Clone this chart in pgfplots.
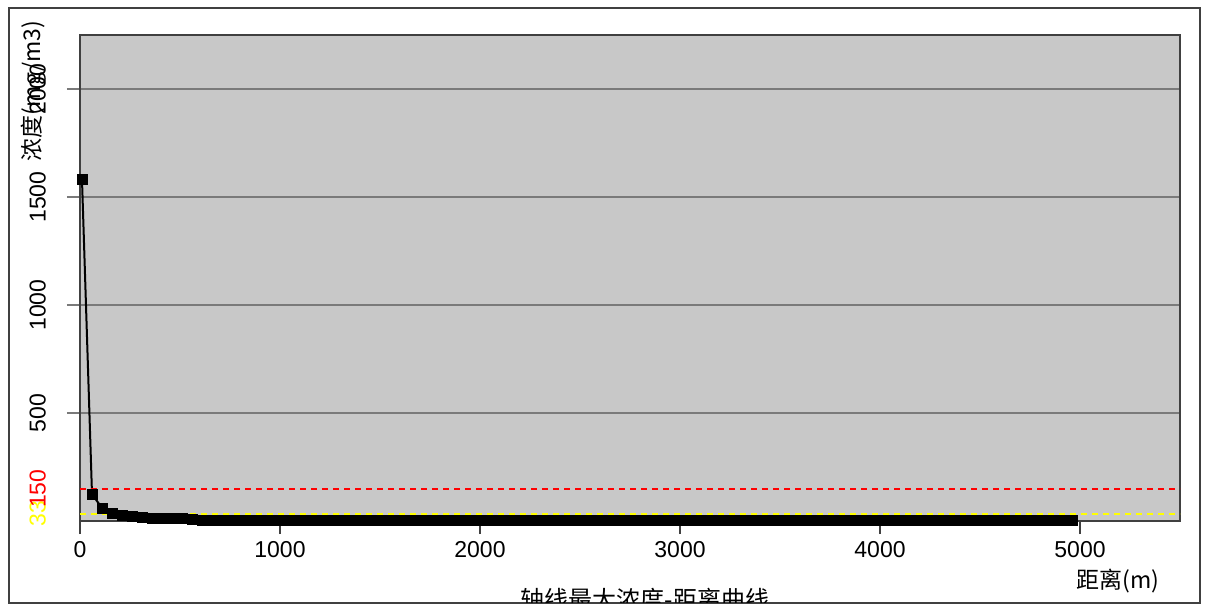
\documentclass[border=0pt]{standalone}
\usepackage{fontspec}
\setmainfont{Liberation Sans}
\newfontfamily\cjk{Noto Sans CJK SC}
\usepackage{pgfplots}
\pgfplotsset{compat=1.18}
\definecolor{plotbg}{HTML}{C8C8C8}
\definecolor{gridc}{HTML}{7A7A7A}
\definecolor{yel}{HTML}{FFFF00}
\definecolor{framec}{HTML}{404040}
\begin{document}
\begin{tikzpicture}
\useasboundingbox (-40pt,-43pt) rectangle (564pt,260.5pt);
\draw[framec, line width=1pt] (-35.5pt,-41pt) rectangle (560pt,256.5pt);
\begin{axis}[
  at={(0pt,0pt)}, anchor=south west, scale only axis,
  width=550pt, height=243pt,
  xmin=0, xmax=5500, ymin=0, ymax=2250,
  axis background/.style={fill=plotbg},
  axis line style={black!75, line width=1pt},
  xtick={0,1000,2000,3000,4000,5000},
  ytick={500,1000,1500,2000},
  xtick pos=bottom, ytick pos=left,
  tick align=outside, major tick length=6.5pt,
  tick style={black!75, line width=1pt},
  ytick style={gridc, line width=1pt},
  ymajorgrids, grid style={gridc, line width=1pt},
  /pgf/number format/assume math mode=true,
  /pgf/number format/set thousands separator={},
  ticklabel style={font=\fontsize{11.5}{12}\selectfont},
  yticklabel style={xshift=-7pt, rotate=90, anchor=south},
  extra y ticks={33,150},
  extra y tick labels={{\color{yel}33},{\color{red}150}},
  extra y tick style={grid=none, tick style={draw=none}},
  clip=false,
]
\addplot[black, line width=1pt, mark=square*, mark size=2.5pt, mark options={line width=0.4pt}] coordinates {
(10,1580) (60,125) (110,60) (160,37) (210,26) (260,20) (310,16) (360,14) (410,12) (460,11)
(510,10) (560,9) (610,3.0) (660,2.9) (710,2.8) (760,2.75) (810,2.7) (860,2.65) (910,2.6) (960,2.55)
(1010,2.5) (1060,2.45) (1110,2.4) (1160,2.36) (1210,2.32) (1260,2.28) (1310,2.25) (1360,2.22) (1410,2.19) (1460,2.16)
(1510,2.13) (1560,2.1) (1610,2.08) (1660,2.06) (1710,2.04) (1760,2.02) (1810,2.0) (1860,1.98) (1910,1.96) (1960,1.94)
(2010,1.92) (2060,1.9) (2110,1.88) (2160,1.86) (2210,1.85) (2260,1.84) (2310,1.82) (2360,1.81) (2410,1.8) (2460,1.79)
(2510,1.78) (2560,1.77) (2610,1.76) (2660,1.75) (2710,1.74) (2760,1.73) (2810,1.72) (2860,1.71) (2910,1.7) (2960,1.69)
(3010,1.68) (3060,1.67) (3110,1.66) (3160,1.65) (3210,1.64) (3260,1.63) (3310,1.62) (3360,1.61) (3410,1.6) (3460,1.59)
(3510,1.58) (3560,1.57) (3610,1.56) (3660,1.55) (3710,1.54) (3760,1.53) (3810,1.52) (3860,1.51) (3910,1.5) (3960,1.49)
(4010,1.48) (4060,1.47) (4110,1.46) (4160,1.45) (4210,1.44) (4260,1.43) (4310,1.42) (4360,1.41) (4410,1.4) (4460,1.39)
(4510,1.38) (4560,1.37) (4610,1.36) (4660,1.35) (4710,1.34) (4760,1.33) (4810,1.32) (4860,1.31) (4910,1.3) (4960,1.29)
};
\addplot[red, line width=1pt, dash pattern=on 3pt off 2.5pt] coordinates {(0,150) (5500,150)};
\addplot[yel, line width=1pt, dash pattern=on 3pt off 2.5pt] coordinates {(0,33) (5500,33)};
\end{axis}
\node[rotate=90, font=\cjk\fontsize{11.5}{12}\selectfont, inner sep=0pt] at (-23pt,215pt) {浓度(mg/m3)};
\node[font=\cjk\fontsize{11.5}{12}\selectfont, inner sep=0pt] at (519pt,-30pt) {距离(m)};
\begin{scope}
\clip (-35.5pt,-40.5pt) rectangle (560pt,0pt);
\node[anchor=north, inner sep=0pt, font=\cjk\fontsize{12}{13}\selectfont] at (282.5pt,-33.5pt) {轴线最大浓度-距离曲线};
\end{scope}
\end{tikzpicture}
\end{document}
